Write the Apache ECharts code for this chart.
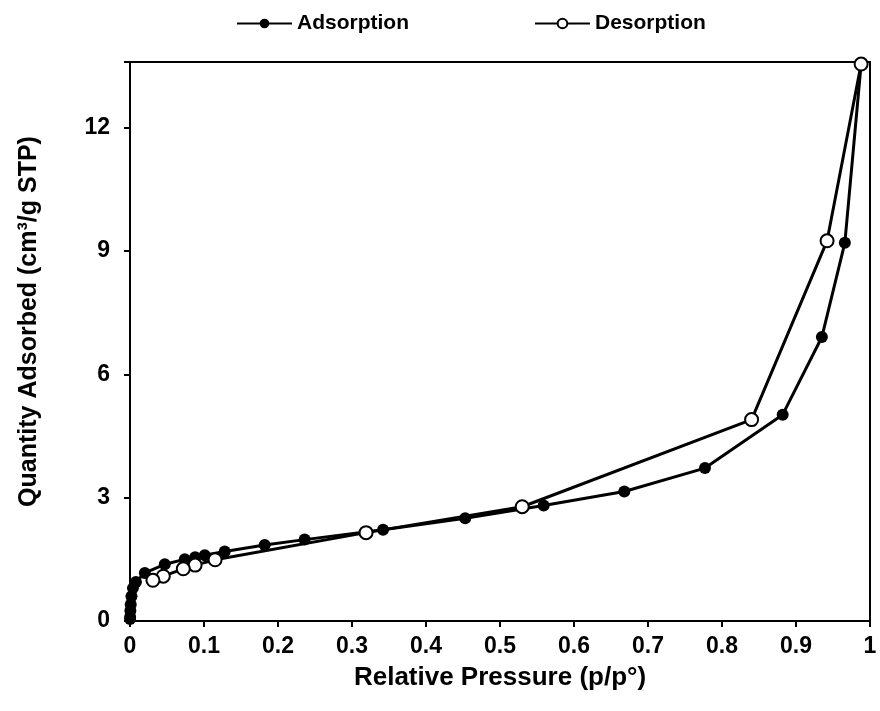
<!DOCTYPE html>
<html>
<head>
<meta charset="utf-8">
<script src="https://cdn.jsdelivr.net/npm/echarts@6/dist/echarts.min.js"></script>
<style>html,body{margin:0;padding:0;background:#fff}#c{width:880px;height:711px}</style>
</head>
<body>
<div id="c"></div>
<script>
const adsP = [0.0001,0.0002,0.0005,0.001,0.002,0.004,0.008,0.02,0.047,0.074,0.088,0.101,0.128,0.182,0.236,0.342,0.453,0.559,0.668,0.777,0.882,0.935,0.966,0.988];
const adsQ = [0.05,0.1,0.25,0.4,0.6,0.8,0.95,1.17,1.38,1.5,1.55,1.6,1.69,1.85,1.98,2.22,2.5,2.81,3.15,3.72,5.02,6.91,9.2,13.55];
const desP = [0.988,0.942,0.840,0.530,0.319,0.115,0.088,0.072,0.045,0.031];
const desQ = [13.55,9.25,4.9,2.78,2.15,1.49,1.36,1.27,1.09,0.99];
const yTicks = [0,3,6,9,12];
const xTicks = [0,0.1,0.2,0.3,0.4,0.5,0.6,0.7,0.8,0.9,1];

const zip = (a,b) => a.map((v,i)=>[v,b[i]]);
const chart = echarts.init(document.getElementById('c'));
const font = 'Liberation Sans, Arial, sans-serif';
chart.setOption({
  animation:false,
  backgroundColor:'#fff',
  legend:{
    top:8, left:231, itemGap:125, itemWidth:55, itemHeight:12,
    textStyle:{fontFamily:font,fontWeight:'bold',fontSize:21,color:'#000'},
    data:['Adsorption','Desorption']
  },
  grid:{left:130,right:10,top:62,bottom:90,show:true,borderColor:'#000',borderWidth:2,backgroundColor:'transparent'},
  xAxis:{
    type:'value',min:0,max:1,interval:0.1,
    name:'Relative Pressure (p/p°)',nameLocation:'middle',nameGap:44,
    nameTextStyle:{fontFamily:font,fontWeight:'bold',fontSize:26,color:'#000'},
    axisLine:{lineStyle:{color:'#000',width:2}},
    axisTick:{show:true,inside:false,length:6,lineStyle:{color:'#000',width:2}},
    axisLabel:{fontFamily:font,fontWeight:'bold',fontSize:23,color:'#000',margin:14,
      formatter:v=>{const t=xTicks.find(x=>Math.abs(x-v)<1e-6);return t===undefined?'':String(t);}},
    splitLine:{show:false}
  },
  yAxis:{
    type:'value',min:0,max:13.6,interval:3,
    name:'Quantity Adsorbed (cm³/g STP)',nameLocation:'middle',nameGap:88,
    nameTextStyle:{fontFamily:font,fontWeight:'bold',fontSize:25,color:'#000',padding:[0,0,0,40]},
    axisLine:{lineStyle:{color:'#000',width:2}},
    axisTick:{show:true,inside:false,length:6,lineStyle:{color:'#000',width:2}},
    axisLabel:{fontFamily:font,fontWeight:'bold',fontSize:23,color:'#000',margin:20,
      formatter:v=>yTicks.includes(v)?String(v):''},
    splitLine:{show:false}
  },
  series:[
    {name:'Adsorption',type:'line',data:zip(adsP,adsQ),symbol:'circle',symbolSize:12,
     lineStyle:{color:'#000',width:3},itemStyle:{color:'#000',borderColor:'#000',borderWidth:0}},
    {name:'Desorption',type:'line',data:zip(desP,desQ),symbol:'circle',symbolSize:13,
     lineStyle:{color:'#000',width:3},itemStyle:{color:'#fff',borderColor:'#000',borderWidth:2}}
  ]
});
</script>
</body>
</html>
